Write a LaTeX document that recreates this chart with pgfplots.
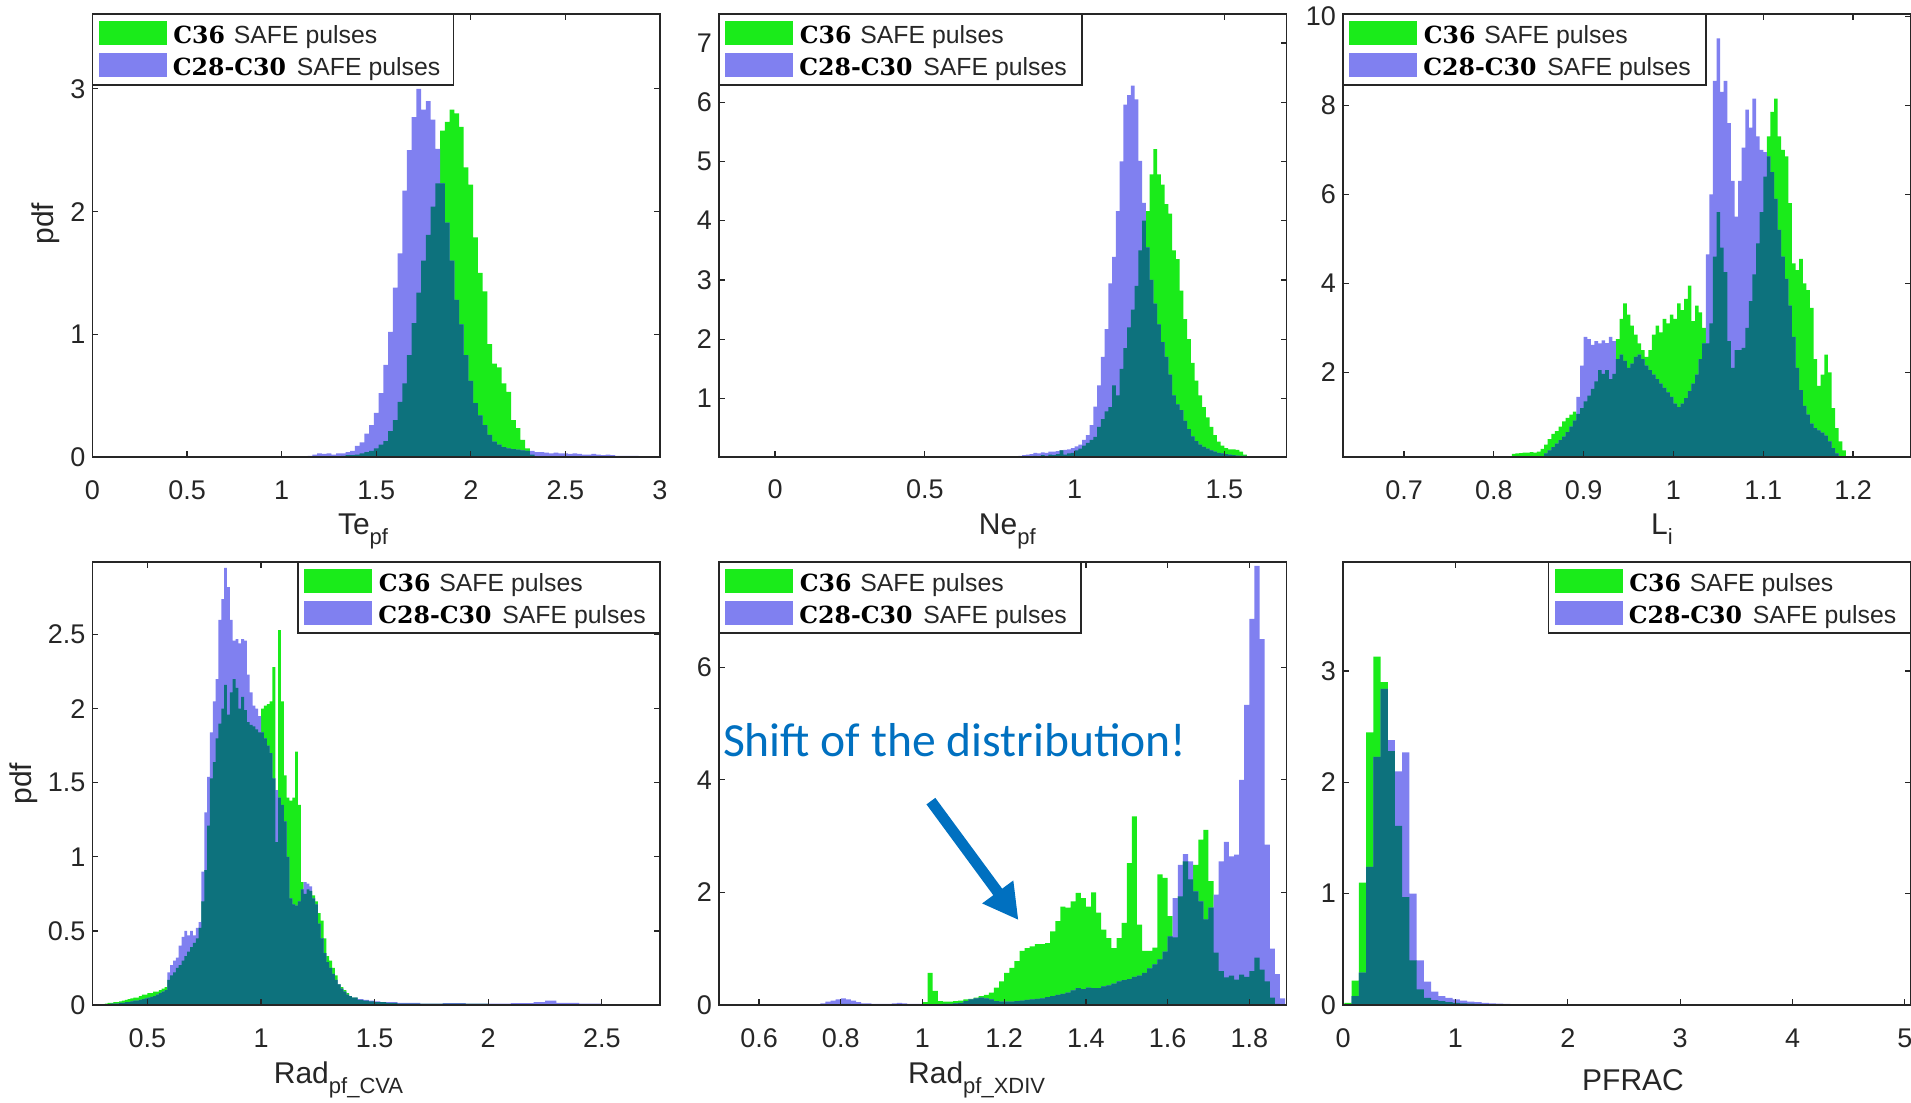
\documentclass[border=0pt]{standalone}
\usepackage{fontspec}
\setmainfont{Liberation Sans}
\newfontfamily\dvserif{DejaVu Serif}
\newfontfamily\carlito{Carlito}
\usepackage{pgfplots}
\pgfplotsset{compat=1.18}
\usepackage{pgfplotstable}
\usetikzlibrary{arrows.meta}

\definecolor{cgreen}{RGB}{26,235,26}
\definecolor{cpurple}{RGB}{128,128,240}
\definecolor{cteal}{RGB}{13,114,125}
\definecolor{axcol}{RGB}{38,38,38}
\definecolor{annblue}{RGB}{0,112,192}

\newcommand\tickfont{\fontsize{13.5bp}{16bp}\selectfont}
\newcommand\labfont{\fontsize{15bp}{18bp}\selectfont}
\newcommand\sub[1]{\raisebox{-5bp}{\fontsize{11bp}{13bp}\selectfont #1}}
\newcommand\legser{\fontsize{11.8bp}{14bp}\selectfont\dvserif\bfseries}
\newcommand\legsans{\fontsize{12.4bp}{14bp}\selectfont}

\newcommand{\legbox}[3]{%
  \begin{scope}[shift={(#1bp,#2bp)}]
    \draw[axcol, line width=0.6bp, fill=white] (0,0) rectangle (#3bp,-35.5bp);
    \fill[cgreen] (3bp,-3.5bp) rectangle (37bp,-15.5bp);
    \fill[cpurple] (3bp,-19.5bp) rectangle (37bp,-31.5bp);
    \node[anchor=base west, inner sep=0, text=black] at (40.25bp,-14.9bp) {\legser C36};
    \node[anchor=base west, inner sep=0, text=axcol] at (70.5bp,-14.9bp) {\legsans SAFE pulses};
    \node[anchor=base west, inner sep=0, text=black] at (40bp,-30.6bp) {\legser C28-C30};
    \node[anchor=base west, inner sep=0, text=axcol] at (102bp,-30.6bp) {\legsans SAFE pulses};
  \end{scope}}

\pgfplotsset{
  hist/.style={
    scale only axis, width=283.75bp, height=221.5bp, anchor=north west,
    axis on top,
    axis line style={draw=axcol, line width=0.6bp},
    tick style={draw=axcol, line width=0.6bp},
    tick align=inside, major tick length=2.8bp,
    ticklabel style={font=\tickfont, text=axcol},
    /pgf/number format/assume math mode=true,
    xticklabel style={anchor=base, yshift=-21bp},
    every axis x label/.style={anchor=base, font=\labfont, text=axcol},
    every axis y label/.style={rotate=90, anchor=center, font=\labfont, text=axcol},
    scaled ticks=false,
  },
  hg/.style={draw=none, fill=cgreen, const plot},
  hp/.style={draw=none, fill=cpurple, const plot},
  ht/.style={draw=none, fill=cteal, const plot},
}

% Panel 1: Te_pf
\pgfplotstableread{
x g p
1.1375 0 0.01
1.1625 0 0.02
1.1875 0 0.03
1.2125 0 0.025
1.2375 0 0.03
1.2625 0 0.02
1.2875 0.005 0.03
1.3125 0.01 0.03
1.3375 0.015 0.04
1.3625 0.015 0.05
1.3875 0.02 0.09
1.4125 0.03 0.12
1.4375 0.04 0.19
1.4625 0.05 0.26
1.4875 0.07 0.36
1.5125 0.10 0.52
1.5375 0.13 0.75
1.5625 0.21 1.02
1.5875 0.30 1.38
1.6125 0.45 1.66
1.6375 0.60 2.17
1.6625 0.83 2.50
1.6875 1.09 2.77
1.7125 1.34 3.00
1.7375 1.60 2.83
1.7625 1.81 2.90
1.7875 2.04 2.75
1.8125 2.23 2.51
1.8375 2.66 2.23
1.8625 2.73 1.91
1.8875 2.83 1.60
1.9125 2.80 1.28
1.9375 2.69 1.08
1.9625 2.36 0.83
1.9875 2.22 0.62
2.0125 1.79 0.44
2.0375 1.50 0.34
2.0625 1.35 0.26
2.0875 0.92 0.18
2.1125 0.76 0.125
2.1375 0.73 0.10
2.1625 0.60 0.08
2.1875 0.53 0.07
2.2125 0.30 0.065
2.2375 0.235 0.06
2.2625 0.14 0.055
2.2875 0.07 0.05
2.3125 0.02 0.05
2.3375 0 0.04
2.3625 0 0.04
2.3875 0 0.035
2.4125 0 0.03
2.4375 0 0.035
2.4625 0 0.03
2.4875 0 0.03
2.5125 0 0.025
2.5375 0 0.03
2.5625 0 0.025
2.5875 0 0.02
2.6125 0 0.02
2.6375 0 0.025
2.6625 0 0.02
2.6875 0 0.015
2.7125 0 0.02
2.7375 0 0.015
2.7625 0 0.01
2.7875 0 0.01
2.8125 0 0.01
2.8375 0 0.01
2.8625 0 0.01
2.8875 0 0.008
2.9125 0 0.008
2.9375 0 0.005
2.9625 0 0
}\tA

% Panel 2: Ne_pf
\pgfplotstableread{
x g p
0.7875 0 0.01
0.8000 0.005 0.02
0.8125 0.01 0.03
0.8250 0.01 0.04
0.8375 0.02 0.05
0.8500 0.02 0.06
0.8625 0.03 0.08
0.8750 0.02 0.07
0.8875 0.04 0.09
0.9000 0.03 0.08
0.9125 0.05 0.10
0.9250 0.04 0.10
0.9375 0.06 0.11
0.9500 0.12 0.12
0.9625 0.05 0.13
0.9750 0.07 0.14
0.9875 0.08 0.16
1.0000 0.12 0.19
1.0125 0.15 0.22
1.0250 0.20 0.30
1.0375 0.25 0.38
1.0500 0.30 0.55
1.0625 0.35 0.86
1.0750 0.52 1.22
1.0875 0.65 1.70
1.1000 0.78 2.17
1.1125 0.85 2.94
1.1250 1.22 3.39
1.1375 1.05 4.16
1.1500 1.50 5.00
1.1625 1.85 5.96
1.1750 2.20 6.12
1.1875 2.50 6.28
1.2000 2.90 6.05
1.2125 3.50 5.01
1.2250 4.00 4.30
1.2375 4.16 3.55
1.2500 4.78 3.00
1.2625 5.21 2.60
1.2750 4.78 2.25
1.2875 4.61 1.95
1.3000 4.28 1.70
1.3125 4.12 1.40
1.3250 3.50 1.05
1.3375 3.35 0.90
1.3500 2.82 0.80
1.3625 2.34 0.62
1.3750 2.00 0.48
1.3875 1.60 0.36
1.4000 1.30 0.28
1.4125 1.05 0.22
1.4250 0.85 0.18
1.4375 0.68 0.15
1.4500 0.52 0.12
1.4625 0.38 0.10
1.4750 0.27 0.08
1.4875 0.20 0.07
1.5000 0.16 0.06
1.5125 0.14 0.05
1.5250 0.14 0.04
1.5375 0.13 0.035
1.5500 0.10 0.03
1.5625 0.05 0.03
1.5750 0.02 0.02
1.5875 0 0.02
1.6000 0 0.015
1.6125 0 0.01
1.6250 0 0.01
1.6375 0 0.005
1.6500 0 0
}\tB

% Panel 3: L_i
\pgfplotstableread{
x g p
0.820 0.17 0.02
0.824 0.18 0.02
0.828 0.19 0.03
0.832 0.20 0.03
0.836 0.20 0.04
0.840 0.21 0.05
0.844 0.20 0.06
0.848 0.22 0.08
0.852 0.28 0.12
0.856 0.38 0.18
0.860 0.50 0.25
0.864 0.62 0.32
0.868 0.68 0.40
0.872 0.78 0.48
0.876 0.90 0.56
0.880 0.98 0.66
0.884 1.05 0.78
0.888 1.12 0.92
0.892 1.07 1.45
0.896 1.20 2.15
0.900 1.35 2.80
0.904 1.48 2.75
0.908 1.63 2.62
0.912 1.80 2.70
0.916 2.05 2.65
0.920 1.97 2.72
0.924 2.05 2.66
0.928 1.85 2.80
0.932 1.97 2.70
0.936 2.75 2.30
0.940 3.20 2.40
0.944 3.55 2.26
0.948 3.30 2.10
0.952 3.05 2.20
0.956 2.85 2.35
0.960 2.65 2.40
0.964 2.50 2.30
0.968 2.35 2.15
0.972 2.50 2.05
0.976 2.85 1.95
0.980 3.05 1.85
0.984 2.90 1.75
0.988 3.20 1.65
0.992 3.10 1.55
0.996 3.30 1.45
1.000 3.20 1.30
1.004 3.55 1.22
1.008 3.40 1.30
1.012 3.65 1.42
1.016 3.95 1.58
1.020 3.15 1.75
1.024 3.50 1.95
1.028 3.35 2.30
1.032 3.00 2.65
1.036 2.65 4.65
1.040 3.10 6.00
1.044 4.60 8.55
1.048 5.60 9.50
1.052 4.80 8.30
1.056 4.25 8.55
1.060 2.70 7.60
1.064 2.10 6.30
1.068 2.50 5.50
1.072 2.50 6.30
1.076 2.55 7.05
1.080 3.00 7.90
1.084 3.60 7.50
1.088 4.20 8.15
1.092 4.90 7.30
1.096 5.60 7.00
1.100 6.40 6.95
1.104 7.30 6.85
1.108 7.85 6.50
1.112 8.15 5.90
1.116 7.30 5.20
1.120 7.00 4.60
1.124 6.85 4.10
1.128 5.80 3.50
1.132 4.45 2.80
1.136 4.30 2.10
1.140 4.55 1.60
1.144 4.00 1.25
1.148 3.85 1.05
1.152 3.45 0.85
1.156 2.30 0.75
1.160 1.70 0.70
1.164 1.95 0.65
1.168 2.40 0.58
1.172 2.00 0.45
1.176 1.20 0.30
1.180 0.75 0.18
1.184 0.45 0.08
1.188 0.25 0.03
1.192 0.12 0.01
1.196 0 0
}\tC

% Panel 4: Rad_pf_CVA
\pgfplotstableread{
x g p
0.3000 0.005 0.0
0.3125 0.01 0.005
0.3250 0.015 0.005
0.3375 0.015 0.01
0.3500 0.02 0.01
0.3625 0.02 0.01
0.3750 0.025 0.015
0.3875 0.03 0.015
0.4000 0.035 0.02
0.4125 0.04 0.02
0.4250 0.045 0.025
0.4375 0.05 0.03
0.4500 0.05 0.03
0.4625 0.06 0.035
0.4750 0.07 0.04
0.4875 0.07 0.045
0.5000 0.08 0.05
0.5125 0.08 0.055
0.5250 0.09 0.06
0.5375 0.09 0.07
0.5500 0.10 0.08
0.5625 0.11 0.09
0.5750 0.12 0.10
0.5875 0.17 0.22
0.6000 0.20 0.27
0.6125 0.22 0.30
0.6250 0.25 0.32
0.6375 0.27 0.40
0.6500 0.30 0.46
0.6625 0.33 0.50
0.6750 0.36 0.47
0.6875 0.39 0.50
0.7000 0.42 0.47
0.7125 0.45 0.52
0.7250 0.52 0.56
0.7375 0.70 0.90
0.7500 0.91 1.30
0.7625 1.21 1.54
0.7750 1.53 1.84
0.7875 1.64 2.05
0.8000 1.80 2.20
0.8125 1.90 2.60
0.8250 2.00 2.74
0.8375 2.16 2.95
0.8500 1.96 2.82
0.8625 2.11 2.60
0.8750 2.20 2.46
0.8875 2.14 2.47
0.9000 2.00 2.44
0.9125 2.08 2.47
0.9250 1.99 2.46
0.9375 1.91 2.23
0.9500 1.89 2.11
0.9625 1.88 2.02
0.9750 1.86 2.00
0.9875 1.84 1.95
1.0000 2.00 1.84
1.0125 2.02 1.80
1.0250 2.03 1.75
1.0375 2.05 1.70
1.0500 2.28 1.53
1.0625 1.10 1.45
1.0750 2.53 1.40
1.0875 2.05 1.35
1.1000 1.55 1.24
1.1125 1.40 1.00
1.1250 1.38 0.72
1.1375 1.40 0.68
1.1500 1.71 0.67
1.1625 1.35 0.70
1.1750 0.83 0.78
1.1875 0.75 0.83
1.2000 0.78 0.82
1.2125 0.77 0.80
1.2250 0.74 0.72
1.2375 0.70 0.68
1.2500 0.62 0.55
1.2625 0.57 0.45
1.2750 0.45 0.35
1.2875 0.33 0.29
1.3000 0.30 0.25
1.3125 0.25 0.21
1.3250 0.20 0.17
1.3375 0.14 0.14
1.3500 0.12 0.11
1.3625 0.10 0.09
1.3750 0.08 0.07
1.3875 0.06 0.06
1.4000 0.05 0.05
1.4250 0.035 0.04
1.4500 0.03 0.035
1.4750 0.025 0.03
1.5000 0.02 0.025
1.5250 0.02 0.02
1.5500 0.015 0.02
1.6000 0.01 0.015
1.7000 0.008 0.01
1.8000 0.01 0.012
1.9000 0.008 0.01
2.0000 0.006 0.01
2.1000 0.004 0.012
2.2000 0.002 0.02
2.2500 0.002 0.03
2.3000 0.0 0.015
2.4000 0.0 0.01
2.5000 0.0 0.005
2.6000 0 0
}\tD

% Panel 5: Rad_pf_XDIV
\pgfplotstableread{
x g p
0.7500 0.00 0.03
0.7625 0.00 0.06
0.7750 0.01 0.08
0.7875 0.01 0.10
0.8000 0.02 0.12
0.8125 0.02 0.10
0.8250 0.01 0.08
0.8375 0.01 0.05
0.8500 0.00 0.03
0.8625 0.00 0.03
0.8750 0.00 0.02
0.8875 0.00 0.02
0.9000 0.00 0.02
0.9125 0.00 0.02
0.9250 0.00 0.03
0.9375 0.00 0.04
0.9500 0.00 0.03
0.9625 0.00 0.02
0.9750 0.00 0.02
0.9875 0.00 0.02
1.0000 0.05 0.01
1.0125 0.57 0.01
1.0250 0.25 0.01
1.0375 0.07 0.01
1.0500 0.06 0.02
1.0625 0.06 0.02
1.0750 0.07 0.03
1.0875 0.08 0.04
1.1000 0.10 0.07
1.1125 0.11 0.10
1.1250 0.13 0.12
1.1375 0.16 0.13
1.1500 0.18 0.12
1.1625 0.22 0.10
1.1750 0.31 0.07
1.1875 0.42 0.06
1.2000 0.57 0.06
1.2125 0.66 0.06
1.2250 0.78 0.07
1.2375 0.96 0.08
1.2500 1.01 0.09
1.2625 1.04 0.10
1.2750 1.08 0.11
1.2875 1.08 0.12
1.3000 1.10 0.14
1.3125 1.31 0.16
1.3250 1.49 0.18
1.3375 1.75 0.20
1.3500 1.73 0.22
1.3625 1.84 0.26
1.3750 1.99 0.30
1.3875 1.90 0.28
1.4000 1.75 0.31
1.4125 2.00 0.30
1.4250 1.64 0.30
1.4375 1.34 0.33
1.4500 1.19 0.35
1.4625 1.01 0.38
1.4750 1.19 0.42
1.4875 1.46 0.44
1.5000 2.52 0.46
1.5125 3.35 0.50
1.5250 1.43 0.52
1.5375 0.96 0.57
1.5500 0.96 0.65
1.5625 1.02 0.72
1.5750 2.32 0.81
1.5875 2.26 0.95
1.6000 1.58 1.22
1.6125 1.20 1.90
1.6250 1.93 2.49
1.6375 2.55 2.68
1.6500 2.23 2.55
1.6625 2.49 2.02
1.6750 2.94 1.84
1.6875 3.11 1.52
1.7000 2.20 1.73
1.7125 0.93 1.96
1.7250 0.60 2.55
1.7375 0.49 2.90
1.7500 0.52 2.64
1.7625 0.45 2.67
1.7750 0.54 4.00
1.7875 0.50 5.33
1.8000 0.60 6.86
1.8125 0.84 7.80
1.8250 0.63 6.50
1.8375 0.42 2.85
1.8500 0.13 1.00
1.8625 0.02 0.55
1.8750 0.00 0.12
1.8875 0 0
}\tE

% Panel 6: PFRAC
\pgfplotstableread{
x g p
0.0130 0.02 0.0
0.0772 0.22 0.08
0.1414 1.10 0.29
0.2056 2.45 1.24
0.2698 3.13 2.23
0.3340 2.90 2.84
0.3982 2.28 2.38
0.4624 1.61 2.10
0.5266 0.97 2.27
0.5908 0.40 1.00
0.6550 0.14 0.40
0.7192 0.065 0.21
0.7834 0.044 0.12
0.8476 0.035 0.08
0.9118 0.026 0.065
0.9760 0.02 0.05
1.0402 0.015 0.04
1.1044 0.012 0.03
1.1686 0.01 0.025
1.2328 0.008 0.02
1.2970 0.006 0.015
1.3612 0.005 0.012
1.4254 0.004 0.01
1.4896 0.003 0.008
1.5538 0.002 0.006
1.6180 0.001 0.004
1.6822 0 0.003
1.7464 0 0.002
1.8106 0 0
}\tF

\newcommand{\hists}[1]{%
  \addplot[hg] table[x=x,y=g]{#1}\closedcycle;
  \addplot[hp] table[x=x,y=p]{#1}\closedcycle;
  \addplot[ht] table[x=x,y expr={min(\thisrow{g},\thisrow{p})}]{#1}\closedcycle;
}

\begin{document}
\begin{tikzpicture}
\useasboundingbox (0,0) rectangle (955.5bp,-551.5bp);

\begin{axis}[hist, at={(46.25bp,-7bp)},
  xmin=0, xmax=3, ymin=0, ymax=3.61,
  xtick={0,0.5,1,1.5,2,2.5,3}, ytick={0,1,2,3},
  xlabel={Te\sub{pf}}, ylabel={pdf},
  xlabel style={at={(axis description cs:0.4767,-0.176)}},
  ylabel style={at={(axis description cs:-0.0828,0.527)}}]
\hists{\tA}
\end{axis}

\begin{axis}[hist, at={(359.5bp,-7bp)},
  xmin=-0.187, xmax=1.707, ymin=0.01, ymax=7.49,
  xtick={0,0.5,1,1.5}, ytick={1,2,3,4,5,6,7},
  xlabel={Ne\sub{pf}},
  xlabel style={at={(axis description cs:0.508,-0.176)}}]
\hists{\tB}
\end{axis}

\begin{axis}[hist, at={(671.5bp,-7bp)},
  xmin=0.632, xmax=1.264, ymin=0.1, ymax=10.05,
  xtick={0.7,0.8,0.9,1,1.1,1.2}, ytick={2,4,6,8,10},
  xlabel={L\sub{i}},
  xlabel style={at={(axis description cs:0.562,-0.176)}}]
\hists{\tC}
\end{axis}

\begin{axis}[hist, at={(46.25bp,-281bp)},
  xmin=0.258, xmax=2.756, ymin=0, ymax=2.99,
  xtick={0.5,1,1.5,2,2.5}, ytick={0,0.5,1,1.5,2,2.5},
  xlabel={Rad\sub{pf\_CVA}}, ylabel={pdf},
  xlabel style={at={(axis description cs:0.4335,-0.178)}},
  ylabel style={at={(axis description cs:-0.1207,0.5)}}]
\hists{\tD}
\end{axis}

\begin{axis}[hist, at={(359.5bp,-281bp)},
  xmin=0.502, xmax=1.891, ymin=0, ymax=7.87,
  xtick={0.6,0.8,1,1.2,1.4,1.6,1.8}, ytick={0,2,4,6},
  xlabel={Rad\sub{pf\_XDIV}},
  xlabel style={at={(axis description cs:0.454,-0.178)}}]
\hists{\tE}
\node[anchor=base west, inner sep=0, text=annblue, font={\fontsize{23.8bp}{28bp}\selectfont\carlito}]
  at (axis cs:0.511,4.41) {Shift of the distribution!};
\draw[annblue, line width=5.5bp, -{Triangle[length=17.5bp, width=18bp]}]
  (axis cs:1.0206,3.622) -- (axis cs:1.235,1.508);
\end{axis}

\begin{axis}[hist, at={(671.5bp,-281bp)},
  xmin=0, xmax=5.05, ymin=0, ymax=3.98,
  xtick={0,1,2,3,4,5}, ytick={0,1,2,3},
  xlabel={PFRAC},
  xlabel style={at={(axis description cs:0.511,-0.194)}}]
\hists{\tF}
\end{axis}

\legbox{46.25}{-7}{180.5}
\legbox{359.5}{-7}{181.5}
\legbox{671.5}{-7}{181.5}
\legbox{149}{-281}{181}
\legbox{359.5}{-281}{181}
\legbox{774.25}{-281}{181}
\end{tikzpicture}
\end{document}
